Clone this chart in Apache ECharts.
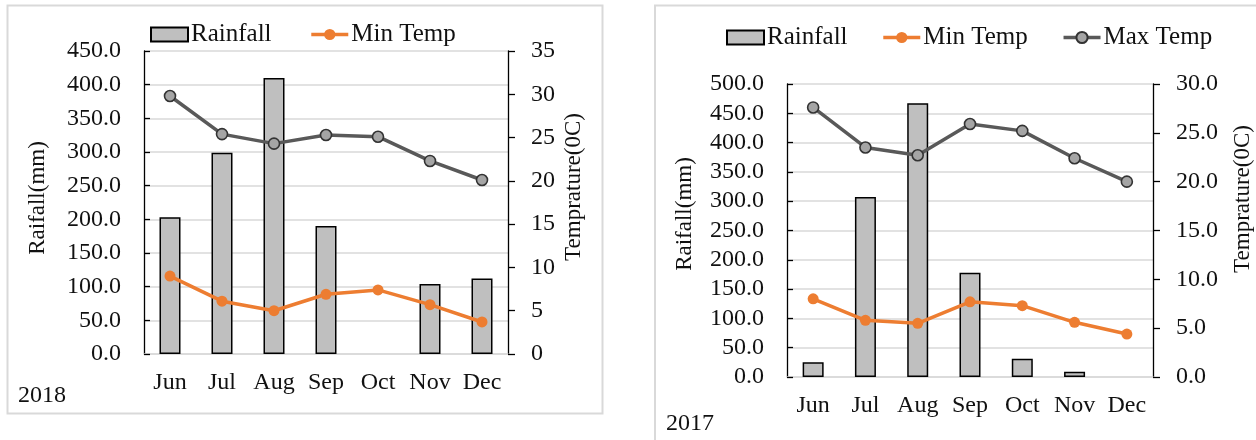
<!DOCTYPE html>
<html>
<head>
<meta charset="utf-8">
<title>Rainfall and Temperature, Jun–Dec 2018 and 2017</title>
<script src="https://cdn.jsdelivr.net/npm/echarts@6/dist/echarts.min.js"></script>
<style>
  html, body { margin: 0; padding: 0; background: #fff; }
  #chart { width: 1256px; height: 440px; }
</style>
</head>
<body>
<div id="chart"></div>
<script>
// Months shown on both panels
const months = ['Jun', 'Jul', 'Aug', 'Sep', 'Oct', 'Nov', 'Dec'];

// 2018 season
const rain2018 = [203, 299, 410, 190, null, 104, 112];
const minTemp2018 = [9.0, 6.1, 5.0, 6.9, 7.4, 5.7, 3.7];
const maxTemp2018 = [29.8, 25.4, 24.3, 25.3, 25.1, 22.3, 20.1];

// 2017 season
const rain2017 = [25, 307, 467, 178, 31, 9, null];
const minTemp2017 = [8.0, 5.8, 5.5, 7.7, 7.3, 5.6, 4.4];
const maxTemp2017 = [27.6, 23.5, 22.7, 25.9, 25.2, 22.4, 20.0];

// Axis ticks
const rainTicks2018 = [0, 50, 100, 150, 200, 250, 300, 350, 400, 450];
const tempTicks2018 = [0, 5, 10, 15, 20, 25, 30, 35];
const rainTicks2017 = [0, 50, 100, 150, 200, 250, 300, 350, 400, 450, 500];
const tempTicks2017 = [0, 5, 10, 15, 20, 25, 30];

const FONT = "'Liberation Serif', 'Times New Roman', serif";
const TEXT = '#111';
const GRID_LINE = '#d9d9d9';
const ORANGE = '#ED7D31';
const DARK = '#595959';
const LINE_W = 3.5;

function valueAxis(ticks, gridIndex, position, decimals, inside) {
  return {
    type: 'value',
    gridIndex: gridIndex,
    position: position,
    min: ticks[0],
    max: ticks[ticks.length - 1],
    interval: ticks[1] - ticks[0],
    axisLine: { show: true, lineStyle: { color: '#000', width: 1.3 } },
    axisTick: { show: true, inside: inside, length: inside ? 6 : 7, lineStyle: { color: '#000', width: 1.3 } },
    axisLabel: {
      color: TEXT, fontFamily: FONT, fontSize: 24, margin: 23,
      formatter: v => v.toFixed(decimals)
    },
    splitLine: position === 'left'
      ? { show: true, lineStyle: { color: GRID_LINE, width: 1.6 } }
      : { show: false }
  };
}

function monthAxis(gridIndex) {
  return {
    type: 'category',
    gridIndex: gridIndex,
    data: months,
    axisLine: { show: true, lineStyle: { color: GRID_LINE, width: 1.6 } },
    axisTick: { show: false },
    axisLabel: { color: TEXT, fontFamily: FONT, fontSize: 24, margin: 17, interval: 0 }
  };
}

function rainSeries(data, axisIdx) {
  return {
    name: 'Rainfall', type: 'bar', data: data,
    xAxisIndex: axisIdx, yAxisIndex: axisIdx * 2,
    barWidth: 21,
    itemStyle: { color: '#bfbfbf', borderColor: '#000', borderWidth: 1.5 },
    z: 2
  };
}

function minSeries(data, axisIdx) {
  return {
    name: 'Min Temp', type: 'line', data: data,
    xAxisIndex: axisIdx, yAxisIndex: axisIdx * 2 + 1,
    symbol: 'circle', symbolSize: 11,
    lineStyle: { color: ORANGE, width: LINE_W },
    itemStyle: { color: ORANGE },
    z: 3
  };
}

function maxSeries(data, axisIdx) {
  return {
    name: 'Max Temp', type: 'line', data: data,
    xAxisIndex: axisIdx, yAxisIndex: axisIdx * 2 + 1,
    symbol: 'circle', symbolSize: 11,
    lineStyle: { color: DARK, width: LINE_W },
    itemStyle: { color: '#a5a5a5', borderColor: '#333', borderWidth: 1.6 },
    z: 3
  };
}

const legendItems = {
  'Rainfall': { name: 'Rainfall', icon: 'rect' },
  'Min Temp': { name: 'Min Temp', lineStyle: { width: LINE_W } },
  'Max Temp': { name: 'Max Temp', lineStyle: { width: LINE_W } }
};

function legend(names, left, top, gap) {
  return {
    data: names.map(n => legendItems[n]), left: left, top: top, padding: 0,
    itemWidth: 37, itemHeight: 14, itemGap: gap,
    textStyle: { color: TEXT, fontFamily: FONT, fontSize: 25, padding: [0, 0, 0, -2] },
    selectedMode: false
  };
}

function vText(text, x, y) {
  return {
    type: 'text', x: x, y: y, rotation: Math.PI / 2, silent: true,
    style: { text: text, fill: TEXT, font: '23px ' + FONT, textAlign: 'center', textVerticalAlign: 'middle' }
  };
}

function hText(text, x, y) {
  return {
    type: 'text', x: x, y: y, silent: true,
    style: { text: text, fill: TEXT, font: '24px ' + FONT, textAlign: 'left', textVerticalAlign: 'middle' }
  };
}

const chart = echarts.init(document.getElementById('chart'));

chart.setOption({
  backgroundColor: '#fff',
  animation: false,
  grid: [
    { left: 144, top: 51, width: 364, height: 303 },
    { left: 787, top: 84, width: 366, height: 293 }
  ],
  legend: [
    legend(['Rainfall', 'Min Temp'], 150, 22, 38),
    legend(['Rainfall', 'Min Temp', 'Max Temp'], 726, 25, 34)
  ],
  xAxis: [monthAxis(0), monthAxis(1)],
  yAxis: [
    valueAxis(rainTicks2018, 0, 'left', 1, true),
    valueAxis(tempTicks2018, 0, 'right', 0, false),
    valueAxis(rainTicks2017, 1, 'left', 1, true),
    valueAxis(tempTicks2017, 1, 'right', 1, false)
  ],
  series: [
    rainSeries(rain2018, 0), minSeries(minTemp2018, 0), maxSeries(maxTemp2018, 0),
    rainSeries(rain2017, 1), minSeries(minTemp2017, 1), maxSeries(maxTemp2017, 1)
  ],
  graphic: [
    // panel frames
    { type: 'rect', silent: true, z: -10,
      shape: { x: 7.5, y: 5.5, width: 595, height: 408 },
      style: { fill: 'none', stroke: GRID_LINE, lineWidth: 2 } },
    { type: 'rect', silent: true, z: -10,
      shape: { x: 655, y: 5.5, width: 700, height: 500 },
      style: { fill: 'none', stroke: GRID_LINE, lineWidth: 2 } },
    // axis titles
    vText('Raifall(mm)', 38, 198),
    vText('Temprature(0C)', 574, 187),
    vText('Raifall(mm)', 685, 214),
    vText('Temprature(0C)', 1243, 199),
    // season labels
    hText('2018', 18, 396),
    hText('2017', 666, 424)
  ]
});
</script>
</body>
</html>
